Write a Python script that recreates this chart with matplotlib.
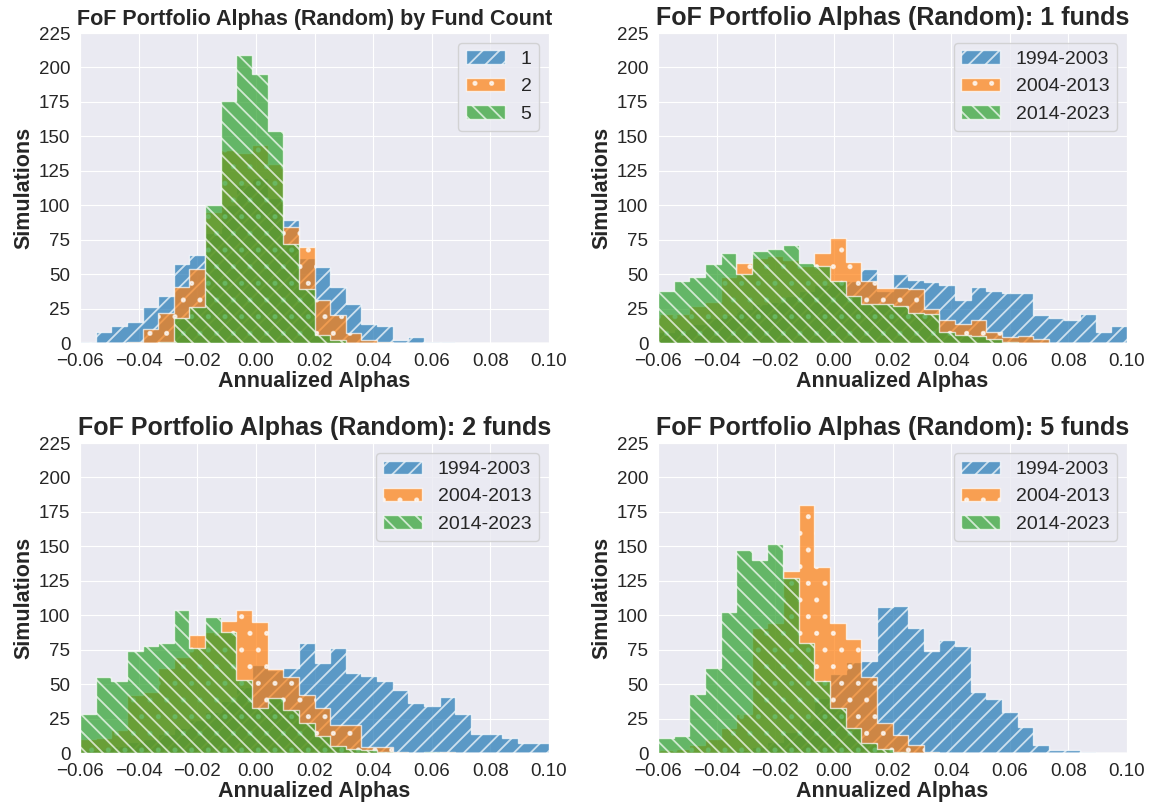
import numpy as np
import matplotlib
matplotlib.use("Agg")
from matplotlib import pyplot as plt
import seaborn as sns

# shared bins for all the histograms
BIN_LO, BIN_HI, N_BINS = -0.06, 0.10, 30

# panel 1: by fund count (simulations per bin)
fund_labels = ["1", "2", "5"]
fc_1 = [1, 8, 12, 15, 26, 34, 57, 64, 80, 100, 115, 120, 105, 89, 62,
        55, 41, 28, 14, 12, 2, 4, 1, 1, 0, 0, 0, 0, 0, 0]
fc_2 = [0, 0, 0, 1, 10, 22, 41, 54, 95, 140, 138, 144, 130, 84, 70,
        31, 20, 7, 2, 1, 0, 0, 0, 0, 0, 0, 0, 0, 0, 0]
fc_5 = [0, 0, 0, 0, 0, 1, 18, 26, 100, 176, 209, 195, 154, 72, 39,
        6, 2, 0, 0, 0, 0, 0, 0, 0, 0, 0, 0, 0, 0, 0]

period_labels = ["1994-2003", "2004-2013", "2014-2023"]

# 1 fund, by period
f1_p1 = [8, 10, 14, 18, 20, 25, 28, 30, 34, 38, 42, 44, 45, 54, 38,
         50, 46, 44, 42, 31, 41, 38, 36, 36, 20, 18, 17, 21, 8, 12]
f1_p2 = [21, 21, 27, 30, 48, 58, 62, 63, 60, 56, 65, 76, 59, 45, 40,
         40, 39, 25, 17, 14, 17, 8, 4, 5, 3, 0, 0, 0, 0, 0]
f1_p3 = [38, 45, 48, 57, 65, 50, 67, 68, 71, 58, 56, 45, 34, 28, 28,
         27, 22, 21, 8, 6, 5, 3, 1, 0, 0, 0, 0, 0, 0, 0]

# 2 funds, by period
f2_p1 = [2, 3, 5, 8, 10, 14, 18, 24, 30, 38, 48, 64, 60, 62, 80,
         65, 76, 58, 56, 52, 46, 36, 34, 41, 28, 14, 14, 11, 7, 7]
f2_p2 = [10, 11, 17, 42, 44, 62, 70, 86, 88, 96, 104, 95, 61, 55, 42,
         33, 20, 20, 4, 4, 1, 0, 0, 1, 0, 0, 0, 0, 0, 0]
f2_p3 = [28, 55, 52, 74, 78, 80, 104, 76, 99, 88, 53, 33, 40, 31, 22,
         12, 5, 3, 2, 1, 0, 0, 1, 0, 0, 0, 0, 0, 0, 0]

# 5 funds, by period
f5_p1 = [0, 0, 0, 0, 1, 2, 4, 8, 15, 25, 40, 57, 66, 67, 106,
         107, 91, 74, 82, 78, 44, 39, 30, 19, 6, 2, 2, 1, 0, 0]
f5_p2 = [2, 3, 6, 10, 18, 28, 91, 94, 132, 180, 135, 94, 83, 55, 22,
         13, 6, 1, 0, 0, 0, 0, 0, 0, 0, 0, 0, 0, 0, 0]
f5_p3 = [11, 12, 43, 62, 102, 147, 140, 152, 127, 80, 52, 33, 18, 7, 3,
         1, 0, 0, 0, 0, 0, 0, 0, 0, 0, 0, 0, 0, 0, 0]

TITLE = "FoF Portfolio Alphas (Random)"
HATCHES = ["//", ".", "\\\\"]
COLORS = ["tab:blue", "tab:orange", "tab:green"]

sns.set_style("darkgrid")
plt.rcParams['font.family'] = ['Liberation Sans', 'DejaVu Sans']
plt.rcParams['hatch.linewidth'] = 1.3

edges = np.linspace(BIN_LO, BIN_HI, N_BINS + 1)
centers = (edges[:-1] + edges[1:]) / 2

fig = plt.figure(figsize=(11.55, 8.11), dpi=100)
W, H = 1155, 811
# axes boxes in pixels: left, top, right, bottom
boxes = [(80, 33, 549, 343), (658, 33, 1127, 343),
         (80, 443, 549, 753), (658, 443, 1127, 753)]
panels = [
    (TITLE + " by Fund Count", [fc_1, fc_2, fc_5], fund_labels, 15.5),
    (TITLE + ": 1 funds", [f1_p1, f1_p2, f1_p3], period_labels, 18),
    (TITLE + ": 2 funds", [f2_p1, f2_p2, f2_p3], period_labels, 18),
    (TITLE + ": 5 funds", [f5_p1, f5_p2, f5_p3], period_labels, 18),
]

for (l, t, r, b), (title, series, labels, tsize) in zip(boxes, panels):
    ax = fig.add_axes([l / W, 1 - b / H, (r - l) / W, (b - t) / H])
    for counts, lab, hatch, col in zip(series, labels, HATCHES, COLORS):
        ax.hist(centers, bins=edges, weights=counts, histtype='stepfilled',
                alpha=0.7, color=col, edgecolor='white', hatch=hatch,
                label=lab)
    ax.set_xlim(BIN_LO, BIN_HI)
    ax.set_ylim(0, 225)
    ax.set_xticks(np.arange(-0.06, 0.101, 0.02))
    ax.set_yticks(np.arange(0, 226, 25))
    ax.tick_params(labelsize=13.5)
    ax.set_title(title, fontsize=tsize, fontweight='bold')
    ax.set_xlabel("Annualized Alphas", fontsize=15.5, fontweight='bold', labelpad=1)
    ax.set_ylabel("Simulations", fontsize=15.5, fontweight='bold', labelpad=3)
    ax.legend(loc='upper right', fontsize=14)

plt.savefig("out.png")
plt.close("all")
